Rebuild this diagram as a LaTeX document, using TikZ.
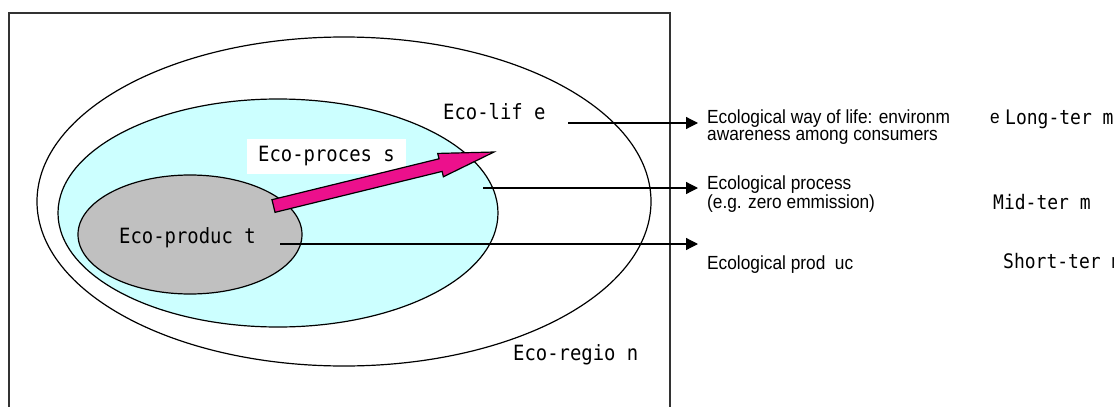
\documentclass[tikz,border=0pt]{standalone}
\usepackage{fontspec}
\setmainfont{Liberation Sans}
\newfontfamily\monofam[FakeStretch=0.9]{DejaVu Sans Mono}
\newfontfamily\narrowfam[FakeStretch=0.91]{Liberation Sans}
\usetikzlibrary{arrows.meta}
\definecolor{ecocyan}{RGB}{204,255,255}
\definecolor{ecogrey}{RGB}{192,192,192}
\definecolor{ecopink}{RGB}{236,16,140}

\begin{document}
\begin{tikzpicture}[>={Triangle[length=12pt,width=12pt]},x=1pt,y=-1pt,
        ring/.style={line width=1.2pt},
        ecolabel/.style={font=\fontsize{21}{24}\monofam,inner sep=0pt,anchor=base west},
        termlabel/.style={font=\fontsize{20}{23}\monofam,inner sep=0pt,anchor=base west},
        note/.style={font=\fontsize{19}{17.5}\narrowfam,align=left,inner xsep=9pt,inner ysep=0pt,anchor=base west},
        procbox/.style={fill=white,minimum width=159pt,minimum height=35pt,inner sep=0pt,font=\fontsize{21}{24}\monofam},
        pointer/.style={->,line width=1.2pt}]
        \useasboundingbox (0,0) rectangle (1114,407);
        % frame (open at the bottom)
        \draw [line width=1.5pt,black!80] (9,415) -- (9,13) -- (670,13) -- (670,415);
        % nested regions
        \draw [ring] (344,201.5) ellipse [x radius=307pt,y radius=164.5pt];
        \draw [ring,fill=ecocyan] (278,213) ellipse [x radius=220pt,y radius=114pt];
        \draw [ring,fill=ecogrey] (190,234.5) ellipse [x radius=112pt,y radius=59.5pt];
        \node [procbox] (proclabel) at (326.5,156.5) {Eco-proces s};
        % block arrow
        \begin{scope}[shift={(273.5,206)},rotate=13.76]
            \draw [line width=1.2pt,fill=ecopink] (0,-6.5) -- (172,-6.5) -- (172,-12) -- (227,0)
                -- (172,12) -- (172,6.5) -- (0,6.5) -- cycle;
        \end{scope}
        \node [ecolabel] (lifelabel) at (443,119) {Eco-lif e};
        \node [ecolabel] (prodlabel) at (119,243) {Eco-produc t};
        \node [ecolabel] (regionlabel) at (513,360) {Eco-regio n};
        % notes on the right (base = last line)
        \node [note] (waylife) at (698,140.5) {Ecological way of life: environm\\awareness among consumers};
        \node [note,inner xsep=0pt] (waylifee) at (990,123) {e};
        \node [note] (ecoprocess) at (698,208.5) {Ecological process\\(e.g. zero emmission)};
        \node [note] (ecoproduct) at (698,269) {Ecological prod\ \ uc};
        \node [termlabel] (longterm) at (1005,124) {Long-ter m};
        \node [termlabel] (midterm) at (993,209) {Mid-ter m};
        \node [termlabel] (shortterm) at (1003,268) {Short-ter m};
        % connectors
        \coordinate (lifeout) at (568,123);
        \coordinate (procout) at (483,188);
        \coordinate (prodout) at (280,244);
        \draw [pointer] (lifeout) -- (lifeout -| waylife.west);
        \draw [pointer] (procout) -- (procout -| ecoprocess.west);
        \draw [pointer] (prodout) -- (prodout -| ecoproduct.west);
\end{tikzpicture}
\end{document}
